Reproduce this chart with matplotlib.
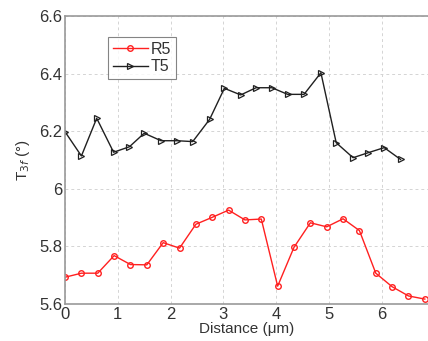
import numpy as np
import matplotlib
matplotlib.use("Agg")
import matplotlib.pyplot as plt

plt.rcParams['font.family'] = ['Liberation Sans', 'DejaVu Sans']

# R5 series
r5_x = np.arange(23) * 0.31
r5_y = [5.693, 5.707, 5.707, 5.768, 5.737, 5.736, 5.813, 5.794, 5.877, 5.901,
        5.926, 5.892, 5.895, 5.662, 5.797, 5.882, 5.868, 5.896, 5.855, 5.707,
        5.660, 5.628, 5.617]

# T5 series
t5_x = [0.0, 0.31, 0.60, 0.92, 1.22, 1.50, 1.82, 2.12, 2.42, 2.74, 3.02,
        3.33, 3.62, 3.92, 4.22, 4.53, 4.85, 5.14, 5.46, 5.74, 6.05, 6.36]
t5_y = [6.198, 6.114, 6.245, 6.127, 6.146, 6.193, 6.167, 6.167, 6.164, 6.241,
        6.349, 6.326, 6.351, 6.351, 6.328, 6.328, 6.403, 6.160, 6.108, 6.125,
        6.143, 6.102]

xticks = [0, 1, 2, 3, 4, 5, 6]
yticks = [5.6, 5.8, 6.0, 6.2, 6.4, 6.6]
ytick_labels = ['5.6', '5.8', '6', '6.2', '6.4', '6.6']

fig = plt.figure(figsize=(4.28, 3.41), dpi=100)
ax = fig.add_axes([0.152, 0.1085, 0.848, 0.8445])

ax.plot(r5_x, r5_y, color='#ff2020', lw=1.0, marker='o', ms=4,
        mfc='none', mec='#ff2020', mew=1.0, label='R5')
ax.plot(t5_x, t5_y, color='#202020', lw=1.0, marker='>', ms=5,
        mfc='none', mec='#202020', mew=0.9, label='T5')

ax.set_xlim(0, 6.88)
ax.set_ylim(5.6, 6.6)
ax.set_xticks(xticks)
ax.set_yticks(yticks)
ax.set_yticklabels(ytick_labels)
ax.grid(True, ls=(0, (3, 3)), color='#d4d4d4', lw=0.7)
ax.tick_params(direction='in', length=0, labelsize=12, colors='#333333', pad=2)
for s in ax.spines.values():
    s.set_color('#999999')
    s.set_linewidth(1.2)
ax.spines['right'].set_visible(False)

ax.set_xlabel('Distance (μm)', fontsize=11, color='#333333', labelpad=0)
ax.set_ylabel('T$_{3f}$ (°)', fontsize=11, color='#333333', labelpad=5)

leg = ax.legend(loc='upper left', bbox_to_anchor=(0.118, 0.927), frameon=True,
                fancybox=False, fontsize=11.5, handlelength=2.2, borderpad=0.3,
                labelspacing=0.15, handletextpad=0.2, borderaxespad=0)
leg.get_frame().set_edgecolor('#666666')
leg.get_frame().set_linewidth(0.8)
for t in leg.get_texts():
    t.set_color('#333333')

fig.savefig('out.png', dpi=100)
